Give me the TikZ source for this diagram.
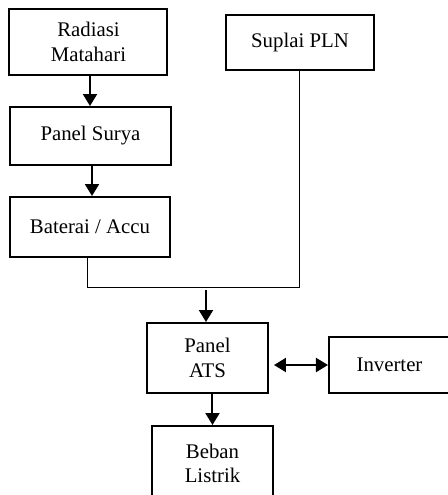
\documentclass[tikz,border=0pt]{standalone}
\usepackage{fontspec}
\setmainfont{Liberation Serif}
\usetikzlibrary{arrows.meta}
\begin{document}
\begin{tikzpicture}[x=0.5pt,y=-0.5pt,
  box/.style={draw, rectangle, line width=1pt, inner sep=0pt, align=center,
    font=\fontsize{10.4}{12.2}\selectfont},
  arr/.style={line width=1pt, -{Triangle[width=7pt,length=6pt]}},
  arrr/.style={line width=1pt, {Triangle[width=7pt,length=6pt]}-{Triangle[width=7pt,length=6pt]}},
  wire/.style={line width=0.5pt}]
\useasboundingbox (0,0) rectangle (447,495);
\node[box, minimum width=79pt, minimum height=33pt] (A) at (88.5,42) {Radiasi\\Matahari};
\node[box, minimum width=80.5pt, minimum height=29pt] (B) at (90.5,136) {Panel Surya};
\node[box, minimum width=80pt, minimum height=30pt] (C) at (90,227) {Baterai / Accu};
\node[box, minimum width=74pt, minimum height=27.5pt] (D) at (300,42.5) {Suplai PLN};
\node[box, minimum width=60.5pt, minimum height=35pt] (E) at (207.5,358) {Panel\\ATS};
\node[box, minimum width=60.5pt, minimum height=28pt] (F) at (389.5,365) {Inverter};
\node[box, minimum width=60.5pt, minimum height=37.5pt] (G) at (212.5,463.5) {Beban\\Listrik};
\coordinate (J) at (88,287);
\coordinate (K) at (206,290);
\draw[arr] (A.south -| 90,0) -- (B.north -| 90,0);
\draw[arr] (B.south -| 92,0) -- (C.north -| 92,0);
\draw[wire] (C.south -| J) -- (J) -| (D.south);
\draw[arr] (K) -- (K |- E.north);
\draw[arrr] ([xshift=2.5pt]E.east |- F.west) -- (F.west);
\draw[arr] (G.north |- E.south) -- (G.north);
\end{tikzpicture}
\end{document}
